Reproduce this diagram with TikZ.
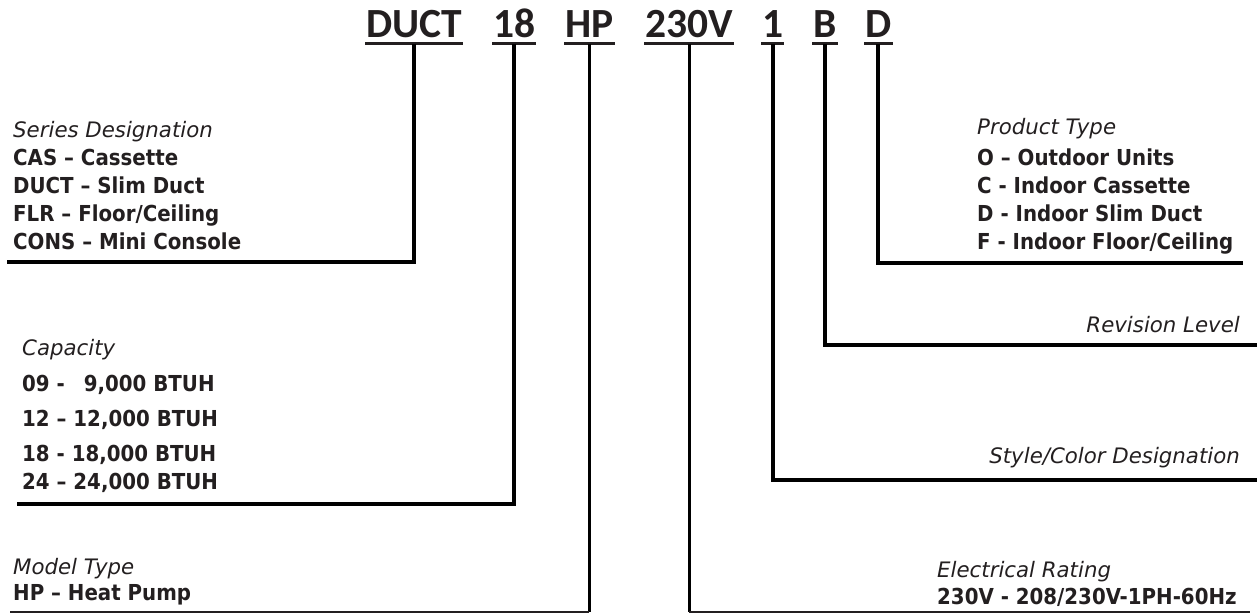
\documentclass[tikz,border=0pt]{standalone}
\usepackage{fontspec}
\setmainfont{DejaVu Sans}
\newfontfamily\titlefont{Carlito}
\newfontfamily\itemfont[FakeStretch=0.9]{DejaVu Sans}
\newfontfamily\headfont{DejaVu Sans}
\definecolor{ink}{HTML}{231F20}
\begin{document}
\begin{tikzpicture}[x=1pt,y=-1pt,
  title/.style={font=\titlefont\bfseries\fontsize{41.5}{42}\selectfont, text=ink, inner sep=0pt, anchor=base west},
  head/.style={font=\headfont\itshape\fontsize{21.3}{26}\selectfont, text=ink, inner sep=0pt},
  item/.style={font=\itemfont\bfseries\fontsize{22}{26}\selectfont, text=ink, inner sep=0pt},
  bar/.style={line width=4pt, black},
  uline/.style={line width=3pt, ink},
  midbar/.style={line width=3pt, black},
  thinbar/.style={line width=2pt, ink},
]
\useasboundingbox (0,0) rectangle (1257,615);
% title
\node[title] (tDUCT) at (366,38) {DUCT};
\node[title] (t18)   at (493,38) {18};
\node[title] (tHP)   at (565,38) {HP};
\node[title] (t230V) at (645,38) {230V};
\node[title] (t1)    at (762,38) {1};
\node[title] (tB)    at (813,38) {B};
\node[title] (tD)    at (865,38) {D};
\coordinate (ul) at (0,44);
\foreach \w in {tDUCT,t18,tHP,t230V,t1,tB,tD}
  \draw[uline] ([xshift=-1pt]\w.west |- ul) -- ([xshift=1pt]\w.east |- ul);
% series designation
\node[head, anchor=base west] (serH) at (13,137) {Series Designation};
\node[item, anchor=base west] (ser1) at (13,165) {CAS – Cassette};
\node[item, anchor=base west] (ser2) at (13,193) {DUCT – Slim Duct};
\node[item, anchor=base west] (ser3) at (13,221) {FLR – Floor/Ceiling};
\node[item, anchor=base west] (ser4) at (13,249) {CONS – Mini Console};
\coordinate (serEnd) at (7,262);
\draw[bar] (tDUCT.south |- ul) |- (serEnd);
% capacity
\node[head, anchor=base west] (capH) at (22,355) {Capacity};
\node[item, anchor=base west] (cap1) at (22,391) {09 -\hspace{19pt}9,000 BTUH};
\node[item, anchor=base west] (cap2) at (22,426) {12 – 12,000 BTUH};
\node[item, anchor=base west] (cap3) at (22,461) {18 - 18,000 BTUH};
\node[item, anchor=base west] (cap4) at (22,489) {24 – 24,000 BTUH};
\coordinate (capEnd) at (17,504);
\draw[bar] (t18.south |- ul) |- (capEnd);
% model type
\node[head, anchor=base west] (mtH) at (13,574) {Model Type};
\node[item, anchor=base west] (mt1) at (13,600) {HP – Heat Pump};
\coordinate (mtEnd) at (10,612);
\draw[midbar] (tHP.south |- ul) -- (tHP.south |- mtEnd);
\draw[thinbar] (tHP.south |- mtEnd) -- (mtEnd);
% electrical rating
\node[head, anchor=base west] (erH) at (937,577) {Electrical Rating};
\node[item, anchor=base west] (er1) at (937,604) {230V - 208/230V-1PH-60Hz};
\coordinate (erEnd) at (1250,612);
\draw[midbar] (t230V.south |- ul) -- (t230V.south |- erEnd);
\draw[thinbar] (t230V.south |- erEnd) -- (erEnd);
% style / color
\node[head, anchor=base east] (stH) at (1240,463) {Style/Color Designation};
\coordinate (stEnd) at (1257,480);
\draw[bar] (t1.south |- ul) |- (stEnd);
% revision
\node[head, anchor=base east] (rvH) at (1240,332) {Revision Level};
\coordinate (rvEnd) at (1257,345);
\draw[bar] (tB.south |- ul) |- (rvEnd);
% product type
\node[head, anchor=base west] (ptH) at (977,135) {Product Type};
\node[item, anchor=base west] (pt1) at (977,165) {O – Outdoor Units};
\node[item, anchor=base west] (pt2) at (977,193) {C - Indoor Cassette};
\node[item, anchor=base west] (pt3) at (977,221) {D - Indoor Slim Duct};
\node[item, anchor=base west] (pt4) at (977,249) {F - Indoor Floor/Ceiling};
\coordinate (ptEnd) at (1243,263);
\draw[bar] (tD.south |- ul) |- (ptEnd);
\end{tikzpicture}
\end{document}
